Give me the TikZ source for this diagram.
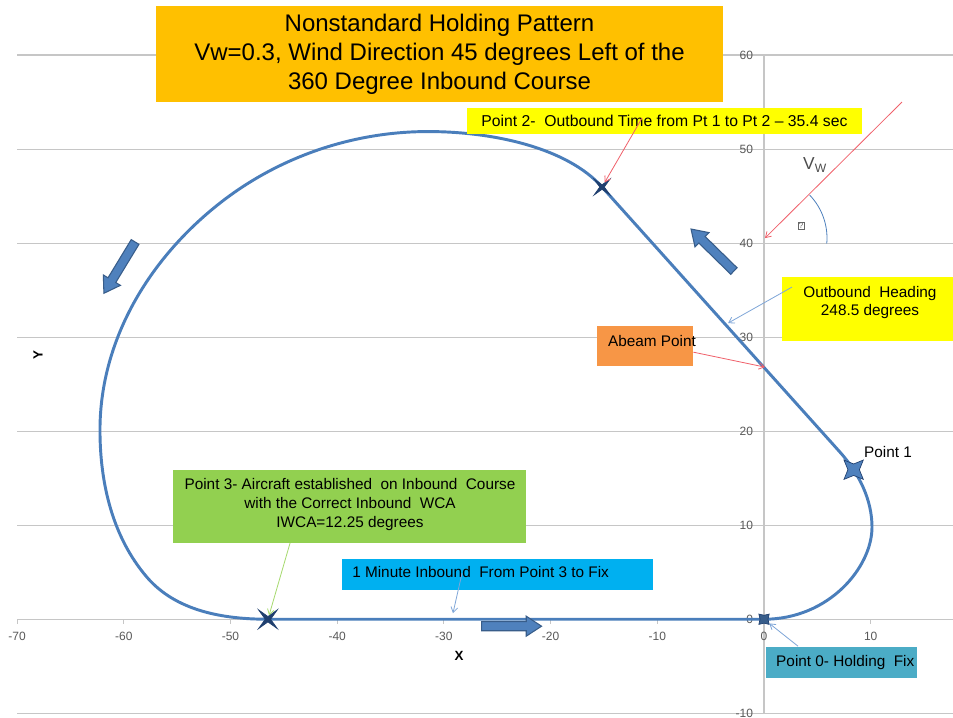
\documentclass[tikz,border=0pt]{standalone}
\usepackage{fontspec}
\setmainfont{Liberation Sans}
\usetikzlibrary{arrows.meta, positioning, shapes.geometric}

\definecolor{trackblue}{HTML}{4A7EBB}
\definecolor{titleorange}{HTML}{FFC000}
\definecolor{noteyellow}{HTML}{FFFF00}
\definecolor{abeamorange}{HTML}{F79646}
\definecolor{notegreen}{HTML}{92D050}
\definecolor{noteblue}{HTML}{00B0F0}
\definecolor{noteteal}{HTML}{4BACC6}
\definecolor{arrowfill}{HTML}{4F81BD}
\definecolor{arrowedge}{HTML}{385D8A}
\definecolor{markernavy}{HTML}{1F3F6F}
\definecolor{calloutred}{HTML}{F0606A}
\definecolor{calloutblue}{HTML}{7FA6D8}
\definecolor{calloutgreen}{HTML}{A6DA6E}

\begin{document}
\begin{tikzpicture}[
  x=8pt, y=7.05pt,
  font=\fontsize{11.5}{14}\selectfont,
  gridline/.style={draw=gray!45, line width=0.8pt},
  ticklbl/.style={inner sep=0pt, font=\fontsize{9}{10}\selectfont, text=black!65},
  track/.style={draw=trackblue, line width=2.2pt, line join=round},
  notebox/.style={rectangle, inner sep=0pt},
  callout/.style={-{Straight Barb[length=4pt, width=5pt]}, line width=0.6pt},
  fourstar/.style={star, star points=4, inner sep=0pt, draw=markernavy, line width=0.5pt},
  blockarrow/.pic={
    \draw[fill=arrowfill, draw=arrowedge, line width=0.8pt]
      (-22.5pt,-3.4pt) -- (11pt,-3.4pt) -- (11pt,-7.5pt) -- (22.5pt,0pt)
      -- (11pt,7.5pt) -- (11pt,3.4pt) -- (-22.5pt,3.4pt) -- cycle;
  }
]
  % chart frame in data units
  \fill[white] (-71.6,-10.43) rectangle (17.71,65.85);
  \useasboundingbox (-71.6,-10.43) rectangle (17.71,65.85);

  \foreach \yv [count=\i] in {-10,0,...,60} {
    \draw[gridline] (-70,\yv) -- (17.71,\yv);
    \draw[gridline] (-0.6,\yv) -- (0,\yv);
    \node[ticklbl, anchor=east] (yt\i) at (-1.0,\yv) {\yv};
  }
  \draw[gridline] (0,-10) -- (0,60);
  \foreach \xv [count=\i] in {-70,-60,...,10} {
    \draw[gridline] (\xv,0) -- (\xv,-0.5);
    \node[ticklbl] (xt\i) at (\xv,-1.81) {\xv};
  }
  \node[font=\bfseries\fontsize{10}{12}\selectfont] (xtitle) at (-28.58,-3.94) {X};
  \node[font=\bfseries\fontsize{10}{12}\selectfont, rotate=90] (ytitle) at (-68.04,28.09) {Y};

  % ground track: inbound turn, outbound leg, big turn back to the course
  \draw[track] (0,0) .. controls (6.09,0) and (10.12,5.53) .. (10.12,9.79)
    .. controls (10.12,12.77) and (8.87,15.54) .. (7.12,17.77)
    -- (-15.18,45.96)
    .. controls (-18.42,50.10) and (-25.30,51.86) .. (-31.49,51.86)
    .. controls (-38.52,51.86) and (-45.45,49.18) .. (-50.98,44.26)
    .. controls (-57.63,38.35) and (-62.23,29.68) .. (-62.23,20.11)
    .. controls (-62.23,14.47) and (-61.06,8.74) .. (-57.83,4.47)
    .. controls (-55.10,0.86) and (-50.67,0) .. (-46.49,0)
    -- cycle;

  \node[fourstar, fill=arrowedge, minimum size=6pt, star point ratio=0.55] (p0) at (0,0) {};
  \node[fourstar, fill=arrowfill, minimum size=8.6pt, star point ratio=0.42] (p1) at (8.4,15.9) {};
  \node[fourstar, fill=markernavy, minimum size=3.4pt, star point ratio=0.2] (p2) at (-15.18,45.96) {};
  \node[fourstar, fill=markernavy, minimum size=4pt, star point ratio=0.2] (p3) at (-46.49,0) {};

  \pic[rotate=238.7] at (-60.40,37.39) {blockarrow};
  \pic[rotate=135.6] at (-4.83,39.26) {blockarrow};
  \pic at (-23.66,-0.74) {blockarrow};

  % title
  \node[notebox, fill=titleorange, minimum width=425pt, minimum height=72pt, align=center,
        font=\fontsize{18}{21.75}\selectfont] (title) at (-30.41,60.11)
    {Nonstandard Holding Pattern\\Vw=0.3, Wind Direction 45 degrees Left of the\\360 Degree Inbound Course};

  % point 2
  \node[notebox, fill=noteyellow, minimum width=296pt, minimum height=19.5pt,
        font=\fontsize{11.8}{14}\selectfont] (p2note) at (-9.33,52.98)
    {Point 2-~ Outbound Time from Pt 1 to Pt 2 – 35.4 sec};
  \coordinate (p2from) at (-11.43,53.30);
  \draw[callout, draw=calloutred] (p2from) -- (p2);

  % wind
  \coordinate (vwtail) at (12.93,55.0);
  \coordinate (vwhead) at (0.09,40.53);
  \draw[callout, draw=calloutred] (vwtail) -- (vwhead);
  \node[text=black!70, font=\fontsize{13}{14}\selectfont] (vwlbl) at (4.78,48.3) {V\textsubscript{W}};
  \draw[draw=arrowfill, line width=0.6pt] ([shift={(44:46.5pt)}]vwhead) arc[start angle=44, end angle=-5, radius=46.5pt];
  \node[draw=black!60, inner sep=0.6pt, font=\fontsize{6}{6}\selectfont, text=black!60] (thetabox) at (3.47,41.81) {?};

  % outbound heading
  \node[notebox, fill=noteyellow, minimum width=128pt, minimum height=48pt] (hdgbox) at (9.70,32.98) {};
  \node[align=center, font=\fontsize{11.5}{13.5}\selectfont] (hdg) at (9.93,33.72) {Outbound~ Heading\\248.5 degrees};
  \coordinate (hdgfrom) at (2.62,35.32);
  \coordinate (hdgto) at (-3.37,31.49);
  \draw[callout, draw=calloutblue] (hdgfrom) -- (hdgto);

  % abeam
  \node[notebox, fill=abeamorange, minimum width=72pt, minimum height=30pt] (abeambox) at (-11.15,29.04) {};
  \node (abeam) at (-10.5,29.57) {Abeam Point};
  \coordinate (abeampt) at (0.09,26.81);
  \draw[callout, draw=calloutred] ([yshift=-4.5pt]abeambox.east) -- (abeampt);

  \node (p1lbl) at (11.62,17.77) {Point 1};

  % point 3
  \node[notebox, fill=notegreen, minimum width=264.75pt, minimum height=54.75pt] (p3box) at (-38.85,11.97) {};
  \node[align=center, font=\fontsize{11.5}{14.25}\selectfont] (p3note) at (-38.8,12.23)
    {Point 3- Aircraft established~ on Inbound~ Course\\with the Correct Inbound~ WCA\\IWCA=12.25 degrees};
  \coordinate (p3from) at (-44.42,8.09);
  \draw[callout, draw=calloutgreen] (p3from) -- (p3);

  % inbound leg
  \node[notebox, fill=noteblue, minimum width=233pt, minimum height=23.25pt] (minbox) at (-24.98,4.73) {};
  \node[anchor=west, inner sep=0pt] (minnote) at (-38.61,5.0) {1 Minute Inbound~ From Point 3 to Fix};
  \coordinate (minfrom) at (-28.30,4.89);
  \coordinate (minto) at (-29.15,0.64);
  \draw[callout, draw=calloutblue] (minfrom) -- (minto);

  % holding fix
  \node[notebox, fill=noteteal, minimum width=113pt, minimum height=23.25pt] (p0box) at (7.26,-4.63) {};
  \node[anchor=west, inner sep=0pt] (p0note) at (1.12,-4.57) {Point 0- Holding~ Fix};
  \coordinate (p0from) at (3.19,-2.87);
  \draw[callout, draw=calloutblue] (p0from) -- (p0);
\end{tikzpicture}
\end{document}
